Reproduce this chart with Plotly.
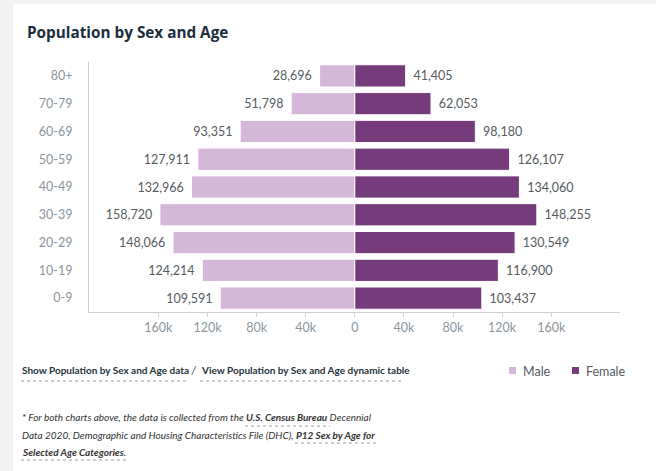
import plotly.graph_objects as go

ages = ["80+", "70-79", "60-69", "50-59", "40-49", "30-39", "20-29", "10-19", "0-9"]
male = [28696, 51798, 93351, 127911, 132966, 158720, 148066, 124214, 109591]
female = [41405, 62053, 98180, 126107, 134060, 148255, 130549, 116900, 103437]
tick_vals = [-160000, -120000, -80000, -40000, 0, 40000, 80000, 120000, 160000]
tick_text = ["160k", "120k", "80k", "40k", "0", "40k", "80k", "120k", "160k"]
series_names = ["Male", "Female"]

W, H = 656, 471
L, R, T, B = 89, 36, 62, 159
PW, PH = W - L - R, H - T - B

def px(x):
    return (x - L) / PW

def py(y):
    return (H - B - y) / PH

MALE_C = "#d5b8d9"
FEMALE_C = "#763b7b"
FONT = "Lato"
PAD = "\u2009\u00a0"

fig = go.Figure()
fig.add_trace(go.Bar(
    y=ages, x=[-v for v in male], orientation="h", name=series_names[0],
    marker=dict(color=MALE_C, line=dict(color="white", width=1)),
    text=[f"{v:,}{PAD}" for v in male], textposition="outside",
    textfont=dict(size=12.5, color="#555b61", family=FONT),
    cliponaxis=False, hoverinfo="skip", showlegend=False,
))
fig.add_trace(go.Bar(
    y=ages, x=female, orientation="h", name=series_names[1],
    marker=dict(color=FEMALE_C, line=dict(color="white", width=1)),
    text=[f"{PAD}{v:,}" for v in female], textposition="outside",
    textfont=dict(size=12.5, color="#555b61", family=FONT),
    cliponaxis=False, hoverinfo="skip", showlegend=False,
))

shapes = [
    dict(type="rect", xref="paper", yref="paper", layer="below",
         x0=px(13), x1=px(W + 5), y0=py(H + 5), y1=py(4),
         fillcolor="white", line=dict(width=0)),
]

def uline(x0, x1, y):
    shapes.append(dict(type="line", xref="paper", yref="paper",
                       x0=px(x0), x1=px(x1), y0=py(y), y1=py(y),
                       line=dict(color="#9aa0a6", width=1, dash="dot")))

uline(21, 186, 381)
uline(200, 404, 381)
uline(245, 330, 426)
uline(295, 378, 443)
uline(21, 127, 460)

annotations = [
    dict(text="<b>Population by Sex and Age</b>", x=px(25), y=py(32),
         xref="paper", yref="paper", xanchor="left", yanchor="middle",
         showarrow=False, font=dict(size=15.3, color="#1b2d3c", family="Open Sans")),
    dict(text="<b>Show Population by Sex and Age data</b>", x=px(20), y=py(370),
         xref="paper", yref="paper", xanchor="left", yanchor="middle",
         showarrow=False, font=dict(size=10, color="#26323b", family=FONT)),
    dict(text="/", x=px(194), y=py(370),
         xref="paper", yref="paper", xanchor="center", yanchor="middle",
         showarrow=False, font=dict(size=12, color="#555", family=FONT)),
    dict(text="<b>View Population by Sex and Age dynamic table</b>", x=px(199), y=py(370),
         xref="paper", yref="paper", xanchor="left", yanchor="middle",
         showarrow=False, font=dict(size=10, color="#26323b", family=FONT)),
    dict(text="<i>* For both charts above, the data is collected from the <b>U.S. Census Bureau</b> Decennial</i>",
         x=px(20), y=py(417), xref="paper", yref="paper", xanchor="left", yanchor="middle",
         showarrow=False, font=dict(size=10, color="#333", family=FONT)),
    dict(text="<i>Data 2020, Demographic and Housing Characteristics File (DHC), <b>P12 Sex by Age for</b></i>",
         x=px(20), y=py(435), xref="paper", yref="paper", xanchor="left", yanchor="middle",
         showarrow=False, font=dict(size=10, color="#333", family=FONT)),
    dict(text="<i><b>Selected Age Categories</b>.</i>",
         x=px(20), y=py(452), xref="paper", yref="paper", xanchor="left", yanchor="middle",
         showarrow=False, font=dict(size=10, color="#333", family=FONT)),
]

# manual legend
for name, col, sx in [(series_names[0], MALE_C, 509), (series_names[1], FEMALE_C, 572)]:
    shapes.append(dict(type="rect", xref="paper", yref="paper",
                       x0=px(sx), x1=px(sx + 7), y0=py(374), y1=py(367),
                       fillcolor=col, line=dict(width=0)))
    annotations.append(dict(text=name, x=px(sx + 12), y=py(371), xref="paper", yref="paper",
                            xanchor="left", yanchor="middle", showarrow=False,
                            font=dict(size=12.5, color="#555b61", family=FONT)))

fig.update_layout(
    width=W, height=H, autosize=False,
    margin=dict(l=L, r=R, t=T, b=B, pad=0),
    paper_bgcolor="#f3f3f3", plot_bgcolor="white",
    barmode="overlay", bargap=0.2,
    font=dict(family=FONT, size=12, color="#555"),
    shapes=shapes, annotations=annotations,
    showlegend=False,
    xaxis=dict(range=[-216500, 216000], tickvals=tick_vals, ticktext=tick_text,
               showgrid=False, zeroline=False, showline=True, linecolor="#d0d0d0",
               linewidth=1, ticks="outside", ticklen=4, tickcolor="#d0d0d0",
               tickfont=dict(size=12.5, color="#8b969e", family=FONT), fixedrange=True),
    yaxis=dict(autorange="reversed", showgrid=False, zeroline=False, showline=True,
               linecolor="#d0d0d0", linewidth=1, ticks="", ticklabelstandoff=13,
               tickfont=dict(size=12.5, color="#8b969e", family=FONT), fixedrange=True),
)

fig.write_html("out.html", config={"displayModeBar": False},
               post_script="document.body.style.margin='0';")
